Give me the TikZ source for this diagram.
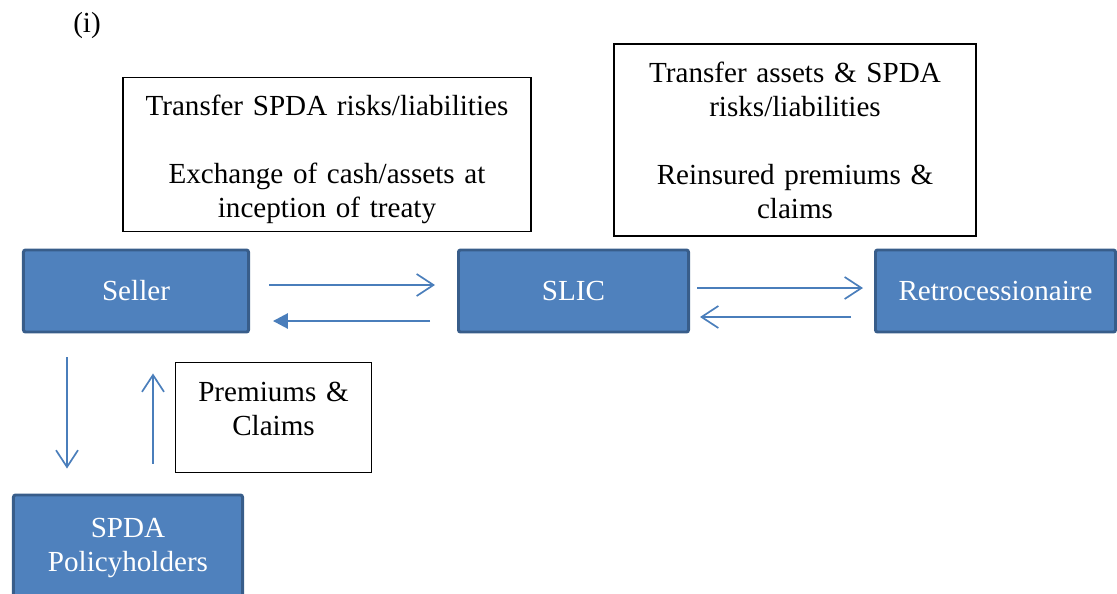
\documentclass[tikz,border=0pt]{standalone}
\usepackage{fontspec}
\setmainfont{Liberation Serif}
\usetikzlibrary{arrows.meta,positioning,calc}
\definecolor{boxblue}{HTML}{4F81BD}
\definecolor{boxedge}{HTML}{385D8A}
\definecolor{flowblue}{HTML}{4A7EBB}
\tikzset{
    every node/.style={font=\fontsize{20.7pt}{24.2pt}\selectfont}
}

\begin{document}
\begin{tikzpicture}[
    x=0.025cm, y=-0.025cm,
    party/.style={
        rectangle,
        rounded corners=1.5pt,
        draw=boxedge,
        fill=boxblue,
        text=white,
        align=center,
        inner sep=0pt,
        line width=2.1pt
    },
    infobox/.style={
        rectangle,
        draw=black,
        fill=white,
        text width=#1,
        align=center,
        inner sep=0pt,
        line width=1.1pt
    },
    flow/.style={
        -{Straight Barb[length=0.42cm,width=0.55cm]},
        line width=1.2pt,
        color=flowblue
    },
    backflow/.style={
        -{Triangle[length=0.37cm,width=0.38cm]},
        line width=1.2pt,
        color=flowblue
    }
]
\clip (0,0) rectangle (1117,593);

% Titolo
\node (tag) at (87,25) {(i)};

% Parti del trattato
\node[party, minimum width=5.625cm, minimum height=2.05cm] (seller) at (136,291) {Seller};
\node[party, minimum width=5.75cm, minimum height=2.05cm] (slic) at (573.5,291) {SLIC};
\node[party, minimum width=6cm, minimum height=2.05cm] (retro) at (995.5,291) {Retrocessionaire};
\node[party, minimum width=5.725cm, minimum height=2.65cm] (holders) at (128,548) {SPDA\\Policyholders};

% Descrizioni dei flussi
\node[infobox=10cm, minimum width=10.21cm, minimum height=3.84cm] (treatynote) at (327,154.5) {
    \rule{0pt}{21.2pt}Transfer SPDA risks/liabilities\\[24.2pt]
    Exchange of cash/assets at\\
    inception of treaty
};
\node[infobox=8.6cm, minimum width=9.06cm, minimum height=4.81cm] (retronote) at (795,140) {
    Transfer assets \& SPDA\\
    risks/liabilities\\[24.2pt]
    Reinsured premiums \&\\
    claims
};
\node[infobox=4.6cm, minimum width=4.89cm, minimum height=2.74cm] (claimsnote) at (273.5,417.5) {
    Premiums \&\\
    Claims\rule[-13pt]{0pt}{13pt}
};

% Frecce tra le parti
\draw[flow] ($(seller.east)+(19,-6)$) -- ($(slic.west)+(-22,-6)$);
\draw[backflow] ($(slic.west)+(-27,30)$) -- ($(seller.east)+(23,30)$);
\draw[flow] ($(slic.east)+(7,-3)$) -- ($(retro.west)+(-11,-3)$);
\draw[flow] ($(retro.west)+(-23,26)$) -- ($(slic.east)+(10,26)$);
\draw[flow] ($(seller.south)+(-69,24)$) -- ($(holders.north)+(-61,-25)$);
\draw[flow] ($(holders.north)+(25,-30)$) -- ($(seller.south)+(17,40)$);

\end{tikzpicture}
\end{document}
